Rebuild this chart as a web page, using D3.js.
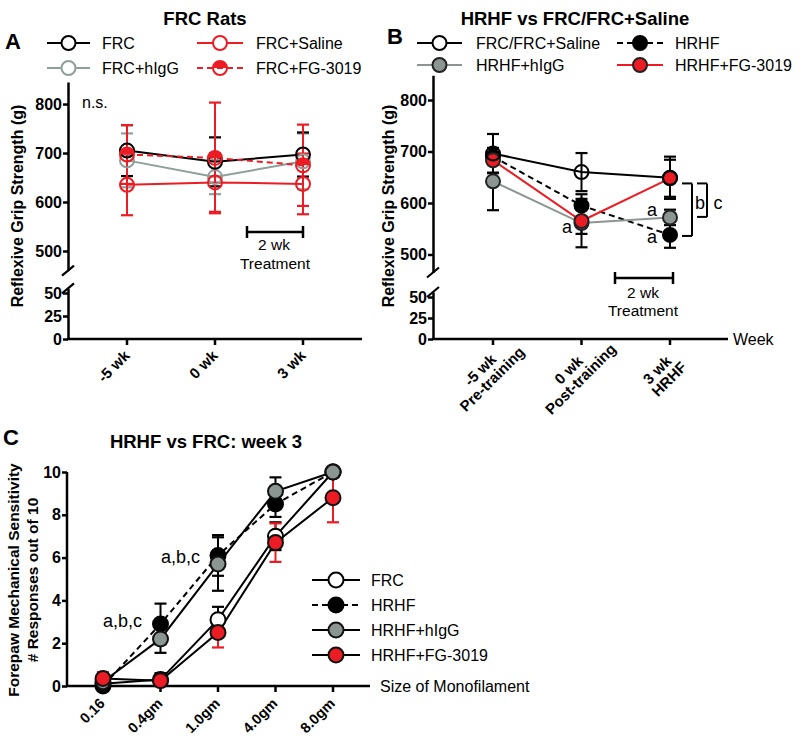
<!DOCTYPE html>
<html><head><meta charset="utf-8">
<script src="https://cdn.jsdelivr.net/npm/d3@7"></script>
<style>body{margin:0;background:#fff}</style>
</head><body><svg id="c" width="800" height="743"></svg>
<script>
// ---------------- DATA ----------------
const weeksA = ["-5 wk", "0 wk", "3 wk"];
const yTicksUpper = [500, 600, 700, 800];
const yTicksLower = [0, 25, 50];
const frcA_mean = [705, 682, 697], frcA_err = [52, 50, 45];
const igA_mean  = [685, 651, 683], igA_err  = [55, 35, 57];
const salA_mean = [635, 640, 637], salA_err = [62, 60, 62];
const fgA_mean  = [697, 690, 675], fgA_err  = [60, 113, 83];

const weeksB = [["-5 wk", "Pre-training"], ["0 wk", "Post-training"], ["3 wk", "HRHF"]];
const frcB_mean  = [696, 660, 649], frcB_err  = [38, 37, 41];
const hrhfB_mean = [690, 595, 538], hrhfB_err = [15, 22, 25];
const igB_mean   = [642, 561, 572], igB_err   = [56, 47, 15];
const fgB_mean   = [683, 565, 648], fgB_err   = [24, 25, 36];

const filaments = ["0.16", "0.4gm", "1.0gm", "4.0gm", "8.0gm"];
const yTicksC = [0, 2, 4, 6, 8, 10];
const frcC_mean  = [0.1, 0.3, 3.1, 7.0, 10],  frcC_err  = [0, 0.3, 0.6, 0.65, 0];
const hrhfC_mean = [0, 2.9, 6.1, 8.5, 10],    hrhfC_err = [0, 0.95, 0.95, 0.6, 0];
const igC_mean   = [0.2, 2.2, 5.7, 9.1, 10],  igC_err   = [0.2, 0.65, 1.25, 0.65, 0];
const fgC_mean   = [0.35, 0.25, 2.5, 6.7, 8.8], fgC_err = [0.3, 0.1, 0.7, 0.9, 1.15];

// ---------------- STYLE ----------------
const F = '"Liberation Sans", Arial, Helvetica, sans-serif';
const RED = "#ec1c24", GRAYA = "#8f9f99", GRAYB = "#8b9591";
const svg = d3.select("#c");

function text(x, y, s, o = {}) {
  return svg.append("text").attr("x", x).attr("y", y).text(s)
    .attr("font-family", F).attr("font-size", o.size || 16)
    .attr("font-weight", o.bold ? "bold" : "normal")
    .attr("text-anchor", o.anchor || "start").attr("fill", o.fill || "#000");
}
function styleAxis(g, size) {
  g.selectAll("path,line").attr("stroke", "#000").attr("stroke-width", 2.5);
  g.selectAll("text").attr("font-family", F).attr("font-weight", "bold")
    .attr("font-size", size).attr("fill", "#000");
}
function line(x1, y1, x2, y2, w = 2.5, c = "#000") {
  svg.append("line").attr("x1", x1).attr("y1", y1).attr("x2", x2).attr("y2", y2)
    .attr("stroke", c).attr("stroke-width", w);
}
function marker(g, cx, cy, r, fill, stroke, half) {
  if (half) {
    g.append("circle").attr("cx", cx).attr("cy", cy).attr("r", r).attr("fill", "none")
      .attr("stroke", stroke).attr("stroke-width", 2);
    g.append("path").attr("d", d3.arc()({innerRadius: 0, outerRadius: r, startAngle: -Math.PI / 2, endAngle: Math.PI / 2}))
      .attr("transform", `translate(${cx},${cy})`).attr("fill", stroke);
  } else {
    g.append("circle").attr("cx", cx).attr("cy", cy).attr("r", r).attr("fill", fill)
      .attr("stroke", stroke).attr("stroke-width", 2);
  }
}
function series(x, y, cats, mean, err, o) {
  const g = svg.append("g");
  const pts = cats.map((c, i) => [x(c), y(mean[i])]);
  g.append("path").attr("d", d3.line()(pts)).attr("fill", "none")
    .attr("stroke", o.line).attr("stroke-width", o.lw || 2)
    .attr("stroke-dasharray", o.dash ? "6,4" : null);
  const eg = svg.append("g");
  cats.forEach((c, i) => {
    if (err[i] <= 0) return;
    const cx = x(c), y1 = y(mean[i] - err[i]), y2 = y(mean[i] + err[i]);
    const s = o.err, cw = o.cap || 6;
    eg.append("line").attr("x1", cx).attr("x2", cx).attr("y1", y1).attr("y2", y2).attr("stroke", s).attr("stroke-width", 2);
    [y1, y2].forEach(yy => eg.append("line").attr("x1", cx - cw).attr("x2", cx + cw).attr("y1", yy).attr("y2", yy).attr("stroke", s).attr("stroke-width", 2.2));
  });
  return {g, pts, o};
}
function markers(s) {
  const mg = svg.append("g");
  s.pts.forEach(p => marker(mg, p[0], p[1], s.o.r, s.o.fill, s.o.stroke, s.o.half));
}
function legendItem(x1, x2, y, label, o, tx) {
  svg.append("line").attr("x1", x1).attr("x2", x2).attr("y1", y).attr("y2", y)
    .attr("stroke", o.line).attr("stroke-width", 2.2).attr("stroke-dasharray", o.dash ? "6,4" : null);
  marker(svg, (x1 + x2) / 2, y, o.r, o.fill === "none" ? "#fff" : o.fill, o.stroke, o.half);
  text(tx, y + 6, label, {size: 16});
}

// broken y axis builder
function brokenAxis(ax, upper, lower, xEnd, axisY) {
  const gu = svg.append("g").attr("transform", `translate(${ax},0)`)
    .call(d3.axisLeft(upper).tickValues(yTicksUpper).tickSize(5).tickSizeOuter(0).tickPadding(1));
  styleAxis(gu, 16);
  const gl = svg.append("g").attr("transform", `translate(${ax},0)`)
    .call(d3.axisLeft(lower).tickValues(yTicksLower).tickSize(5).tickSizeOuter(0).tickPadding(1));
  styleAxis(gl, 16);
  const yu = upper.range()[0], yl = lower.range()[1];
  line(ax - 6, yu + 5, ax + 6, yu - 5, 2.2);
  line(ax - 6, yl + 5, ax + 6, yl - 5, 2.2);
  line(ax - 1, axisY, xEnd, axisY, 2.5);
}
function xTicks(x, cats, axisY) {
  cats.forEach(c => line(x(c), axisY, x(c), axisY + 6, 2.5));
}
const combine = (up, lo, thr) => v => v >= thr ? up(v) : lo(v);

// ================= PANEL A =================
{
  const upper = d3.scaleLinear().domain([460, 845]).range([270.6, 82]);
  const lower = d3.scaleLinear().domain([0, 55]).range([339, 288.4]);
  const y = combine(upper, lower, 460);
  const x = d3.scalePoint().domain(weeksA).range([127, 303]);
  brokenAxis(68, upper, lower, 362, 339);
  xTicks(x, weeksA, 339);
  weeksA.forEach(c => {
    svg.append("text").attr("transform", `translate(${x(c)},339) rotate(-45)`)
      .attr("x", -10).attr("y", 15).attr("text-anchor", "end").text(c)
      .attr("font-family", F).attr("font-weight", "bold").attr("font-size", 15);
  });
  const oIg  = {line: GRAYA, err: GRAYA, fill: "none", stroke: GRAYA, r: 7, cap: 6};
  const oFrc = {line: "#000", err: "#000", fill: "none", stroke: "#000", r: 7, cap: 6};
  const oSal = {line: RED, err: RED, fill: "none", stroke: RED, r: 7, cap: 6};
  const oFg  = {line: RED, err: RED, fill: "none", stroke: RED, r: 7, cap: 6, dash: true, half: true};
  const s1 = series(x, y, weeksA, igA_mean, igA_err, oIg);
  const s2 = series(x, y, weeksA, frcA_mean, frcA_err, oFrc);
  const s3 = series(x, y, weeksA, salA_mean, salA_err, oSal);
  const s4 = series(x, y, weeksA, fgA_mean, fgA_err, oFg);
  [s1, s2, s3, s4].forEach(markers);
  // annotations
  text(82, 108, "n.s.", {size: 16});
  line(247, 232, 303, 232, 2.5); line(247, 226, 247, 238, 2.5); line(303, 226, 303, 238, 2.5);
  text(274, 250, "2 wk", {size: 15.5, anchor: "middle"});
  text(275, 269, "Treatment", {size: 15.5, anchor: "middle"});
  // titles & legend
  text(205, 25, "FRC Rats", {size: 18.5, bold: true, anchor: "middle"});
  text(5, 49, "A", {size: 22, bold: true});
  legendItem(47, 90, 43, "FRC", oFrc, 102);
  legendItem(197, 243, 43, "FRC+Saline", oSal, 256);
  legendItem(47, 90, 68, "FRC+hIgG", oIg, 102);
  legendItem(197, 243, 68, "FRC+FG-3019", oFg, 256);
  svg.append("text").attr("transform", "translate(23,206) rotate(-90)").attr("text-anchor", "middle")
    .text("Reflexive Grip Strength (g)").attr("font-family", F).attr("font-weight", "bold").attr("font-size", 16);
}

// ================= PANEL B =================
{
  const upper = d3.scaleLinear().domain([465, 848]).range([272.5, 75.3]);
  const lower = d3.scaleLinear().domain([0, 56]).range([339, 292]);
  const y = combine(upper, lower, 465);
  const cats = weeksB.map(d => d[0]);
  const x = d3.scalePoint().domain(cats).range([493, 670]);
  brokenAxis(433, upper, lower, 728, 339);
  xTicks(x, cats, 339);
  weeksB.forEach(d => {
    const t = svg.append("text").attr("transform", `translate(${x(d[0])},339) rotate(-45)`)
      .attr("text-anchor", "middle").attr("font-family", F).attr("font-weight", "bold").attr("font-size", 15);
    t.append("tspan").attr("x", -31).attr("y", 18).text(d[0]);
    t.append("tspan").attr("x", -29).attr("y", 33).text(d[1]);
  });
  text(733, 345, "Week", {size: 16});
  const oFrc  = {line: "#000", err: "#000", fill: "none", stroke: "#000", r: 7, cap: 6};
  const oHrhf = {line: "#000", err: "#000", fill: "#000", stroke: "#000", r: 7, cap: 6, dash: true};
  const oIg   = {line: GRAYB, err: "#000", fill: GRAYB, stroke: "#222", r: 7, cap: 6};
  const oFg   = {line: RED, err: "#000", fill: RED, stroke: "#222", r: 7, cap: 6};
  const s1 = series(x, y, cats, frcB_mean, frcB_err, oFrc);
  const s2 = series(x, y, cats, hrhfB_mean, hrhfB_err, oHrhf);
  const s3 = series(x, y, cats, igB_mean, igB_err, oIg);
  const s4 = series(x, y, cats, fgB_mean, fgB_err, oFg);
  [s2, s3, s4, s1].forEach(markers);
  // significance letters
  text(567, 233, "a", {size: 18, anchor: "middle"});
  text(652, 216, "a", {size: 18, anchor: "middle"});
  text(652, 243, "a", {size: 18, anchor: "middle"});
  const yb1 = y(638), yb2 = y(536), yc2 = y(573);
  line(682, yb1, 692, yb1, 2); line(692, yb1, 692, yb2, 2); line(682, yb2, 692, yb2, 2);
  line(697, yb1, 707, yb1, 2); line(707, yb1, 707, yc2, 2); line(697, yc2, 707, yc2, 2);
  text(700, 209, "b", {size: 18, anchor: "middle"});
  text(718, 209, "c", {size: 18, anchor: "middle"});
  line(615, 278, 673, 278, 2.5); line(615, 272, 615, 284, 2.5); line(673, 272, 673, 284, 2.5);
  text(643, 298, "2 wk", {size: 15.5, anchor: "middle"});
  text(643, 316, "Treatment", {size: 15.5, anchor: "middle"});
  // titles & legend
  text(575, 25, "HRHF vs FRC/FRC+Saline", {size: 18.5, bold: true, anchor: "middle"});
  text(387, 44, "B", {size: 22, bold: true});
  legendItem(417, 462, 43, "FRC/FRC+Saline", oFrc, 476);
  legendItem(617, 663, 43, "HRHF", oHrhf, 675);
  legendItem(417, 462, 65, "HRHF+hIgG", oIg, 476);
  legendItem(617, 663, 65, "HRHF+FG-3019", oFg, 675);
  svg.append("text").attr("transform", "translate(394,206) rotate(-90)").attr("text-anchor", "middle")
    .text("Reflexive Grip Strength (g)").attr("font-family", F).attr("font-weight", "bold").attr("font-size", 16);
}

// ================= PANEL C =================
{
  const y = d3.scaleLinear().domain([0, 10]).range([686, 472]);
  const x = d3.scalePoint().domain(filaments).range([103, 333]);
  const gy = svg.append("g").attr("transform", "translate(67,0)")
    .call(d3.axisLeft(y).tickValues(yTicksC).tickSize(5).tickSizeOuter(0).tickPadding(1));
  styleAxis(gy, 16);
  gy.select(".domain").attr("d", `M0,${y(10)}V${y(0) + 1}`);
  line(66, 686, 370, 686, 2.5);
  xTicks(x, filaments, 686);
  filaments.forEach(c => {
    svg.append("text").attr("transform", `translate(${x(c)},686) rotate(-45)`)
      .attr("x", -11).attr("y", 15).attr("text-anchor", "end").text(c)
      .attr("font-family", F).attr("font-weight", "bold").attr("font-size", 14.5);
  });
  text(380, 692, "Size of Monofilament", {size: 16});
  const oFrc  = {line: "#000", err: "#000", fill: "#fff", stroke: "#000", r: 7.5, cap: 6};
  const oHrhf = {line: "#000", err: "#000", fill: "#000", stroke: "#000", r: 7.5, cap: 6, dash: true};
  const oIg   = {line: "#000", err: "#000", fill: GRAYB, stroke: "#111", r: 7.5, cap: 6};
  const oFg   = {line: "#000", err: RED, fill: RED, stroke: "#111", r: 7.5, cap: 6};
  const s1 = series(x, y, filaments, frcC_mean, frcC_err, oFrc);
  const s2 = series(x, y, filaments, hrhfC_mean, hrhfC_err, oHrhf);
  const s3 = series(x, y, filaments, igC_mean, igC_err, oIg);
  const s4 = series(x, y, filaments, fgC_mean, fgC_err, oFg);
  [s1, s2, s3, s4].forEach(markers);
  text(103, 627, "a,b,c", {size: 18});
  text(161, 563, "a,b,c", {size: 18});
  text(206, 448, "HRHF vs FRC: week 3", {size: 18.5, bold: true, anchor: "middle"});
  text(3, 445, "C", {size: 22, bold: true});
  legendItem(312, 360, 580, "FRC", oFrc, 371);
  legendItem(312, 360, 605, "HRHF", oHrhf, 371);
  legendItem(312, 360, 630, "HRHF+hIgG", oIg, 371);
  legendItem(312, 360, 655, "HRHF+FG-3019", oFg, 371);
  const t = svg.append("text").attr("transform", "translate(0,580) rotate(-90)").attr("text-anchor", "middle")
    .attr("font-family", F).attr("font-weight", "bold").attr("font-size", 15.5);
  t.append("tspan").attr("x", 0).attr("y", 19).text("Forepaw Mechanical Sensitivity");
  t.append("tspan").attr("x", 0).attr("y", 38).text("# Responses out of 10");
}
</script>
</body></html>
